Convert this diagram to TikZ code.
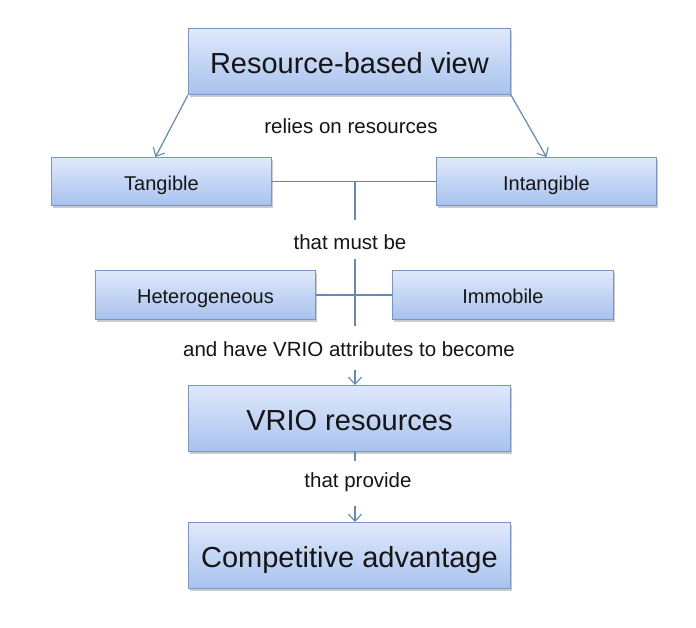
\documentclass[tikz,border=0pt]{standalone}
\usepackage{fontspec}
\setmainfont{Liberation Sans}
\usetikzlibrary{arrows.meta,shadows}
\definecolor{boxtop}{HTML}{DFE9FB}
\definecolor{boxbot}{HTML}{A8C2EE}
\definecolor{boxline}{HTML}{7A96C2}
\definecolor{conn}{HTML}{6688B6}
\definecolor{txt}{HTML}{151515}
\tikzset{
  boxbase/.style={draw=boxline, line width=0.9pt, top color=boxtop, bottom color=boxbot,
    drop shadow={shadow xshift=2pt, shadow yshift=-2.5pt, opacity=0.35, fill=black!60},
    text=txt, inner sep=0pt, anchor=north west, text depth=0pt},
  bigbox/.style={boxbase, minimum width=322pt, minimum height=66pt, text height=24.5pt, font=\fontsize{29}{33}\selectfont},
  smallbox/.style={boxbase, minimum width=220pt, minimum height=48pt, text height=17.5pt, font=\fontsize{20}{24}\selectfont},
  lbl/.style={text=txt, inner sep=0pt, font=\fontsize{20.5}{24}\selectfont},
  ln/.style={draw=conn, line width=1.2pt},
  arr/.style={ln, -{Straight Barb[length=7pt, width=13pt, line width=1.1pt]}}
}
\begin{document}
\begin{tikzpicture}[x=1pt, y=-1pt]
\useasboundingbox (0,0) rectangle (696,627);
% boxes
\node[bigbox] (rbv) at (188,28) {Resource-based view};
\node[smallbox] (tang) at (51,157) {Tangible};
\node[smallbox] (intang) at (436,157) {Intangible};
\node[smallbox, minimum height=49pt] (het) at (95,270) {Heterogeneous};
\node[smallbox, minimum height=49pt, minimum width=221pt] (imm) at (392,270) {Immobile};
\node[bigbox] (vrio) at (188,385) {VRIO resources};
\node[bigbox] (comp) at (188,522) {Competitive advantage};
% labels
\node[lbl] (relies) at (351,126) {relies on resources};
\node[lbl] (must) at (350,242) {that must be};
\node[lbl] (attr) at (349,349) {and have VRIO attributes to become};
\node[lbl] (prov) at (358,482) {that provide};
% helper coordinates
\coordinate (j1) at (355,181);
\coordinate (j1e) at (355,220);
\coordinate (j2s) at (355,259);
\coordinate (j2e) at (355,326);
\coordinate (a1s) at (355,370);
\coordinate (a1e) at (355,385);
\coordinate (b1s) at (355,451);
\coordinate (b1e) at (355,461);
\coordinate (c1s) at (355,506);
\coordinate (c1e) at (355,522);
% connectors
\draw[arr] (rbv.south west) -- ([xshift=-6pt]tang.north);
\draw[arr] (rbv.south east) -- (intang.north);
\draw[ln] (tang.east) -- (intang.west);
\draw[ln] (j1) -- (j1e);
\draw[ln] (j2s) -- (j2e);
\draw[ln] (het.east) -- (imm.west);
\draw[arr] (a1s) -- (a1e);
\draw[ln] (b1s) -- (b1e);
\draw[arr] (c1s) -- (c1e);
\end{tikzpicture}
\end{document}
